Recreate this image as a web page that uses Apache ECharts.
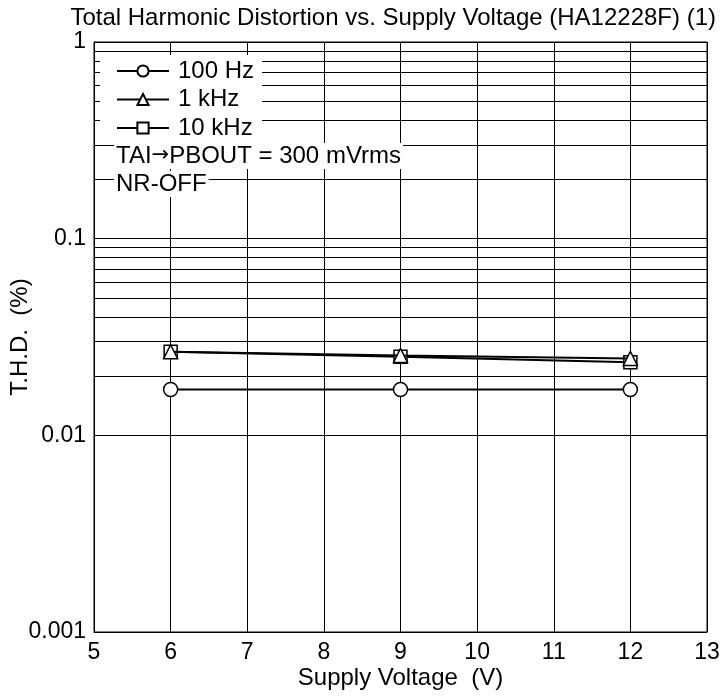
<!DOCTYPE html>
<html>
<head>
<meta charset="utf-8">
<script src="https://cdn.jsdelivr.net/npm/echarts@6/dist/echarts.min.js"></script>
<style>
  html, body { margin: 0; padding: 0; background: #fff; }
  #main { width: 723px; height: 700px; }
</style>
</head>
<body>
<div id="main"></div>
<script>
// supply voltage (V)
var voltages = [6, 9, 12];
// T.H.D. (%)
var thd100Hz = [0.0171, 0.0171, 0.0171];
var thd1kHz = [0.0266, 0.0255, 0.0246];
var thd10kHz = [0.0266, 0.0251, 0.0235];
var yTickLabels = ['0.001', '0.01', '0.1', '1'];
// minor log grid lines (2..9 in each decade)
var minorGrid = [0.002, 0.003, 0.004, 0.005, 0.006, 0.007, 0.008, 0.009,
                 0.02, 0.03, 0.04, 0.05, 0.06, 0.07, 0.08, 0.09,
                 0.2, 0.3, 0.4, 0.5, 0.6, 0.7, 0.8, 0.9];

var font = 'Liberation Sans, Arial, sans-serif';

function pairs(ys) {
    return voltages.map(function (v, i) { return [v, ys[i]]; });
}

function lineSeries(name, symbol, size, ys, z) {
    return {
        name: name,
        type: 'line',
        data: pairs(ys),
        symbol: symbol,
        symbolSize: size,
        z: z,
        lineStyle: { color: '#000', width: 2 },
        itemStyle: { color: '#fff', borderColor: '#000', borderWidth: 1.5 }
    };
}

var myChart = echarts.init(document.getElementById('main'));
myChart.setOption({
    animation: false,
    title: {
        text: 'Total Harmonic Distortion vs. Supply Voltage (HA12228F) (1)',
        right: 2,
        top: 1,
        textStyle: { color: '#000', fontSize: 24, fontWeight: 'normal', fontFamily: font }
    },
    grid: {
        left: 94, right: 16, top: 42, bottom: 68,
        outerBoundsMode: 'none',
        containLabel: false,
        show: true, borderColor: '#000', borderWidth: 1
    },
    legend: {
        orient: 'vertical',
        left: 100,
        top: 55,
        z: 10,
        padding: [4, 8, 4, 16],
        backgroundColor: '#fff',
        itemWidth: 52,
        itemHeight: 14,
        itemGap: 4.5,
        textStyle: { color: '#000', fontSize: 24, lineHeight: 22, fontFamily: font, padding: [0, 0, 0, 4] },
        data: ['100 Hz', '1 kHz', '10 kHz']
    },
    graphic: [
        {
            type: 'text', left: 114, top: 143, z: 100,
            style: {
                text: 'TAI{a|\u2192}PBOUT = 300 mVrms', fill: '#000', fontSize: 24, fontFamily: font,
                backgroundColor: '#fff', padding: [1, 2, 1, 2],
                rich: { a: { fontFamily: 'DejaVu Sans', fontSize: 21, fill: '#000' } }
            }
        },
        {
            type: 'text', left: 114, top: 171, z: 100,
            style: {
                text: 'NR-OFF', fill: '#000', fontSize: 24, fontFamily: font,
                backgroundColor: '#fff', padding: [1, 2, 1, 2]
            }
        }
    ],
    xAxis: {
        type: 'value',
        min: 5, max: 13, interval: 1,
        name: 'Supply Voltage  (V)',
        nameLocation: 'middle',
        nameGap: 34,
        nameMoveOverlap: false,
        nameTextStyle: { color: '#000', fontSize: 24, fontFamily: font },
        axisLine: { lineStyle: { color: '#000', width: 1 } },
        axisTick: { show: false },
        axisLabel: { color: '#000', fontSize: 23, fontFamily: font, margin: 9 },
        splitLine: { show: true, lineStyle: { color: '#000', width: 1 } }
    },
    yAxis: {
        type: 'log',
        logBase: 10,
        min: 0.001, max: 1,
        name: 'T.H.D.  (%)',
        nameLocation: 'middle',
        nameGap: 62,
        nameMoveOverlap: false,
        nameTextStyle: { color: '#000', fontSize: 24, fontFamily: font },
        axisLine: { lineStyle: { color: '#000', width: 1 } },
        axisTick: { show: false },
        axisLabel: {
            color: '#000', fontSize: 23, fontFamily: font, margin: 8,
            formatter: function (v) {
                var i = Math.round(Math.log10(v)) + 3;
                return yTickLabels[i] || '';
            }
        },
        splitLine: { show: true, lineStyle: { color: '#000', width: 1 } }
    },
    series: [
        {
            name: 'minor',
            type: 'line',
            data: [],
            z: 1,
            silent: true,
            markLine: {
                silent: true,
                z: 1,
                symbol: 'none',
                label: { show: false },
                lineStyle: { color: '#000', width: 1, type: 'solid' },
                data: minorGrid.map(function (v) { return { yAxis: v }; })
            }
        },
        lineSeries('100 Hz', 'circle', 14, thd100Hz, 5),
        lineSeries('1 kHz', 'triangle', 14, thd1kHz, 7),
        lineSeries('10 kHz', 'rect', 13, thd10kHz, 6)
    ]
});
</script>
</body>
</html>
